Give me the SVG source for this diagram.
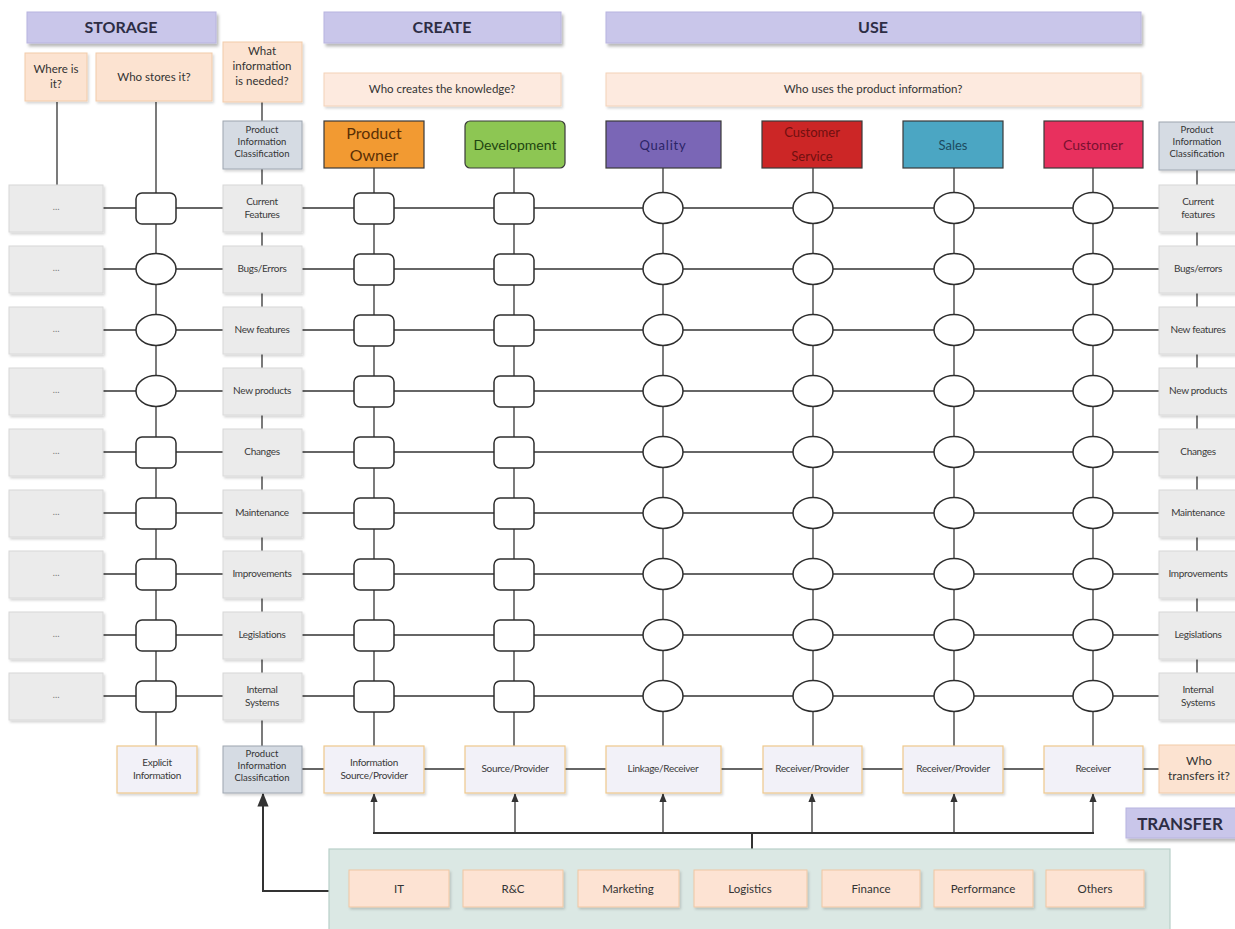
<svg xmlns="http://www.w3.org/2000/svg" width="1235" height="929" viewBox="0 0 1235 929">
  <defs>
    <filter id="shadow" x="-10%" y="-20%" width="130%" height="150%">
      <feDropShadow dx="2" dy="3" stdDeviation="1.5" flood-color="#000" flood-opacity="0.28"/>
    </filter>
    <filter id="softshadow" x="-10%" y="-20%" width="130%" height="150%">
      <feDropShadow dx="1.5" dy="2" stdDeviation="1.2" flood-color="#000" flood-opacity="0.16"/>
    </filter>
    <marker id="arrow" viewBox="0 0 10 10" refX="9" refY="5" markerWidth="7" markerHeight="7" orient="auto">
      <path d="M0,1 L10,5 L0,9 z" fill="#333"/>
    </marker>
    <style>
      text { font-family: Lato, "Open Sans", "Liberation Sans", sans-serif; text-anchor: middle; fill: #3a3a3a; }
      .phase { fill: #c9c6ea; stroke: #b8b4df; stroke-width: 1; filter: url(#shadow); }
      .phase-t { font-size: 16px; font-weight: bold; fill: #2d2d45; }
      .q { fill: #fce3d1; stroke: #f2cba9; stroke-width: 1; filter: url(#softshadow); }
      .q2 { fill: #fdeadf; stroke: #f3d2b8; stroke-width: 1; filter: url(#softshadow); }
      .q-t { font-size: 11.5px; fill: #333; }
      .pic { fill: #d5dbe3; stroke: #9ea6b0; stroke-width: 1; filter: url(#softshadow); }
      .pic-t { font-size: 9.5px; fill: #333; }
      .lab { fill: #ebebeb; stroke: #d8d8d8; stroke-width: 1; filter: url(#softshadow); }
      .lab-t { font-size: 10px; fill: #3a3a3a; letter-spacing: -0.3px; }
      .dots-t { font-size: 9px; fill: #777; }
      .role { stroke: #3a3a3a; stroke-width: 1.2; }
      .bot { fill: #f2f1f8; stroke: #efc98c; stroke-width: 1.2; filter: url(#softshadow); }
      .bot-t { font-size: 10px; fill: #3a3a3a; letter-spacing: -0.3px; }
      .dept { fill: #fde3d3; stroke: #f0c7a3; stroke-width: 1; filter: url(#softshadow); }
      .dept-t { font-size: 11.5px; fill: #333; }
      .line { stroke: #333; stroke-width: 1.3; fill: none; }
      .bus { stroke: #333; stroke-width: 2; fill: none; }
      .node { fill: #fff; stroke: #2e2e2e; stroke-width: 1.5; }
    </style>
  </defs>

  <rect width="1235" height="929" fill="#fff"/>

  <!-- connectors -->
  <g id="connectors">
    <!-- row lines -->
    <g class="line">
      <line x1="103" y1="208" x2="1159" y2="208"/>
      <line x1="103" y1="269" x2="1159" y2="269"/>
      <line x1="103" y1="330" x2="1159" y2="330"/>
      <line x1="103" y1="391" x2="1159" y2="391"/>
      <line x1="103" y1="452" x2="1159" y2="452"/>
      <line x1="103" y1="513" x2="1159" y2="513"/>
      <line x1="103" y1="574" x2="1159" y2="574"/>
      <line x1="103" y1="635" x2="1159" y2="635"/>
      <line x1="103" y1="696" x2="1159" y2="696"/>
      <!-- column lines -->
      <line x1="57" y1="102" x2="57" y2="185"/>
      <line x1="156" y1="102" x2="156" y2="746"/>
      <line x1="262" y1="102" x2="262" y2="746"/>
      <line x1="1197" y1="150" x2="1197" y2="696"/>
      <line x1="374" y1="168" x2="374" y2="746"/>
      <line x1="514" y1="168" x2="514" y2="746"/>
      <line x1="663" y1="168" x2="663" y2="746"/>
      <line x1="813" y1="168" x2="813" y2="746"/>
      <line x1="954" y1="168" x2="954" y2="746"/>
      <line x1="1093" y1="168" x2="1093" y2="746"/>
      <!-- bottom role row -->
      <line x1="302" y1="769" x2="1159" y2="769"/>
    </g>
    <!-- transfer bus -->
    <g class="bus">
      <line x1="373" y1="833" x2="1094" y2="833"/>
      <line x1="752" y1="833" x2="752" y2="849"/>
      <polyline points="329,891 263,891 263,794" marker-end="url(#arrow)"/>
    </g>
    <g class="line" marker-end="url(#arrow)">
      <line x1="374" y1="833" x2="374" y2="794"/>
      <line x1="515" y1="833" x2="515" y2="794"/>
      <line x1="663" y1="833" x2="663" y2="794"/>
      <line x1="812" y1="833" x2="812" y2="794"/>
      <line x1="954" y1="833" x2="954" y2="794"/>
      <line x1="1093" y1="833" x2="1093" y2="794"/>
    </g>
  </g>

  <!-- phase headers -->
  <g id="storage-header">
    <rect class="phase" x="27" y="12" width="189" height="31"/>
    <text class="phase-t" x="121" y="33">STORAGE</text>
  </g>
  <g id="create-header">
    <rect class="phase" x="324" y="12" width="237" height="31"/>
    <text class="phase-t" x="442" y="33">CREATE</text>
  </g>
  <g id="use-header">
    <rect class="phase" x="606" y="12" width="535" height="31"/>
    <text class="phase-t" x="873" y="33">USE</text>
  </g>
  <g id="transfer-header">
    <rect class="phase" x="1126" y="808" width="115" height="30"/>
    <text class="phase-t" x="1180" y="830" style="font-size:17px">TRANSFER</text>
  </g>

  <!-- questions -->
  <g id="q-where">
    <rect class="q" x="25" y="53" width="62" height="48"/>
    <text class="q-t" x="56" y="73">Where is</text>
    <text class="q-t" x="56" y="88">it?</text>
  </g>
  <g id="q-who-stores">
    <rect class="q" x="96" y="53" width="116" height="48"/>
    <text class="q-t" x="154" y="81">Who stores it?</text>
  </g>
  <g id="q-what">
    <rect class="q" x="223" y="42" width="79" height="60"/>
    <text class="q-t" x="262" y="55">What</text>
    <text class="q-t" x="262" y="70">information</text>
    <text class="q-t" x="262" y="85">is needed?</text>
  </g>
  <g id="q-who-creates">
    <rect class="q2" x="324" y="73" width="237" height="33"/>
    <text class="q-t" x="442" y="93">Who creates the knowledge?</text>
  </g>
  <g id="q-who-uses">
    <rect class="q2" x="606" y="73" width="535" height="33"/>
    <text class="q-t" x="873" y="93">Who uses the product information?</text>
  </g>
  <g id="q-who-transfers">
    <rect class="q" x="1159" y="745" width="80" height="48"/>
    <text class="q-t" x="1199" y="765" style="font-size:12px">Who</text>
    <text class="q-t" x="1199" y="780" style="font-size:12px">transfers it?</text>
  </g>

  <!-- classification headers -->
  <g id="pic-top">
    <rect class="pic" x="223" y="121" width="79" height="48"/>
    <text class="pic-t" x="262" y="133">Product</text>
    <text class="pic-t" x="262" y="145">Information</text>
    <text class="pic-t" x="262" y="157">Classification</text>
  </g>
  <g id="pic-right">
    <rect class="pic" x="1159" y="122" width="80" height="48"/>
    <text class="pic-t" x="1197" y="133">Product</text>
    <text class="pic-t" x="1197" y="145">Information</text>
    <text class="pic-t" x="1197" y="157">Classification</text>
  </g>

  <!-- roles -->
  <g id="role-product-owner">
    <rect class="role" x="324" y="121" width="100" height="47" fill="#f29a32" stroke="#f29a32"/>
    <text x="374" y="139" style="font-size:16px;fill:#5a2f05">Product</text>
    <text x="374" y="161" style="font-size:16px;fill:#5a2f05">Owner</text>
  </g>
  <g id="role-development">
    <rect class="role" x="465" y="121" width="100" height="47" rx="5" fill="#8dc653" stroke="#3d5a22"/>
    <text x="515" y="150" style="font-size:14px;fill:#1e4510">Development</text>
  </g>
  <g id="role-quality">
    <rect class="role" x="606" y="121" width="115" height="47" fill="#7a66b6"/>
    <text x="663" y="150" style="font-size:13px;fill:#2b2466;letter-spacing:0.8px">Quality</text>
  </g>
  <g id="role-customer-service">
    <rect class="role" x="762" y="121" width="100" height="47" fill="#cc2626"/>
    <text x="812" y="137" style="font-size:13px;fill:#701010">Customer</text>
    <text x="812" y="161" style="font-size:13px;fill:#701010">Service</text>
  </g>
  <g id="role-sales">
    <rect class="role" x="903" y="121" width="100" height="47" fill="#4ba6c3"/>
    <text x="953" y="150" style="font-size:13px;fill:#1c4a60">Sales</text>
  </g>
  <g id="role-customer">
    <rect class="role" x="1044" y="121" width="99" height="47" fill="#e8305e"/>
    <text x="1093" y="150" style="font-size:14px;fill:#7a1030">Customer</text>
  </g>

  <!-- storage location boxes -->
  <g id="where-boxes">
    <rect class="lab" x="9" y="185" width="94" height="47"/><text class="dots-t" x="56" y="210">…</text>
    <rect class="lab" x="9" y="246" width="94" height="47"/><text class="dots-t" x="56" y="271">…</text>
    <rect class="lab" x="9" y="307" width="94" height="47"/><text class="dots-t" x="56" y="332">…</text>
    <rect class="lab" x="9" y="368" width="94" height="47"/><text class="dots-t" x="56" y="393">…</text>
    <rect class="lab" x="9" y="429" width="94" height="47"/><text class="dots-t" x="56" y="454">…</text>
    <rect class="lab" x="9" y="490" width="94" height="47"/><text class="dots-t" x="56" y="515">…</text>
    <rect class="lab" x="9" y="551" width="94" height="47"/><text class="dots-t" x="56" y="576">…</text>
    <rect class="lab" x="9" y="612" width="94" height="47"/><text class="dots-t" x="56" y="637">…</text>
    <rect class="lab" x="9" y="673" width="94" height="47"/><text class="dots-t" x="56" y="698">…</text>
  </g>

  <!-- information categories (left) -->
  <g id="categories-left">
    <rect class="lab" x="223" y="185" width="79" height="47"/>
    <text class="lab-t" x="262" y="205">Current</text><text class="lab-t" x="262" y="218">Features</text>
    <rect class="lab" x="223" y="246" width="79" height="47"/>
    <text class="lab-t" x="262" y="272">Bugs/Errors</text>
    <rect class="lab" x="223" y="307" width="79" height="47"/>
    <text class="lab-t" x="262" y="333">New features</text>
    <rect class="lab" x="223" y="368" width="79" height="47"/>
    <text class="lab-t" x="262" y="394">New products</text>
    <rect class="lab" x="223" y="429" width="79" height="47"/>
    <text class="lab-t" x="262" y="455">Changes</text>
    <rect class="lab" x="223" y="490" width="79" height="47"/>
    <text class="lab-t" x="262" y="516">Maintenance</text>
    <rect class="lab" x="223" y="551" width="79" height="47"/>
    <text class="lab-t" x="262" y="577">Improvements</text>
    <rect class="lab" x="223" y="612" width="79" height="47"/>
    <text class="lab-t" x="262" y="638">Legislations</text>
    <rect class="lab" x="223" y="673" width="79" height="47"/>
    <text class="lab-t" x="262" y="693">Internal</text><text class="lab-t" x="262" y="706">Systems</text>
  </g>

  <!-- information categories (right) -->
  <g id="categories-right">
    <rect class="lab" x="1159" y="185" width="80" height="47"/>
    <text class="lab-t" x="1198" y="205">Current</text><text class="lab-t" x="1198" y="218">features</text>
    <rect class="lab" x="1159" y="246" width="80" height="47"/>
    <text class="lab-t" x="1198" y="272">Bugs/errors</text>
    <rect class="lab" x="1159" y="307" width="80" height="47"/>
    <text class="lab-t" x="1198" y="333">New features</text>
    <rect class="lab" x="1159" y="368" width="80" height="47"/>
    <text class="lab-t" x="1198" y="394">New products</text>
    <rect class="lab" x="1159" y="429" width="80" height="47"/>
    <text class="lab-t" x="1198" y="455">Changes</text>
    <rect class="lab" x="1159" y="490" width="80" height="47"/>
    <text class="lab-t" x="1198" y="516">Maintenance</text>
    <rect class="lab" x="1159" y="551" width="80" height="47"/>
    <text class="lab-t" x="1198" y="577">Improvements</text>
    <rect class="lab" x="1159" y="612" width="80" height="47"/>
    <text class="lab-t" x="1198" y="638">Legislations</text>
    <rect class="lab" x="1159" y="673" width="80" height="47"/>
    <text class="lab-t" x="1198" y="693">Internal</text><text class="lab-t" x="1198" y="706">Systems</text>
  </g>

  <!-- storage column nodes -->
  <g id="nodes-storage">
    <rect class="node" x="136" y="193" width="40" height="31" rx="6"/>
    <ellipse class="node" cx="156" cy="269" rx="20" ry="15.5"/>
    <ellipse class="node" cx="156" cy="330" rx="20" ry="15.5"/>
    <ellipse class="node" cx="156" cy="391" rx="20" ry="15.5"/>
    <rect class="node" x="136" y="437" width="40" height="31" rx="6"/>
    <rect class="node" x="136" y="498" width="40" height="31" rx="6"/>
    <rect class="node" x="136" y="559" width="40" height="31" rx="6"/>
    <rect class="node" x="136" y="620" width="40" height="31" rx="6"/>
    <rect class="node" x="136" y="681" width="40" height="31" rx="6"/>
  </g>

  <!-- product owner column nodes -->
  <g id="nodes-product-owner">
    <rect class="node" x="354" y="193" width="40" height="31" rx="6"/>
    <rect class="node" x="354" y="254" width="40" height="31" rx="6"/>
    <rect class="node" x="354" y="315" width="40" height="31" rx="6"/>
    <rect class="node" x="354" y="376" width="40" height="31" rx="6"/>
    <rect class="node" x="354" y="437" width="40" height="31" rx="6"/>
    <rect class="node" x="354" y="498" width="40" height="31" rx="6"/>
    <rect class="node" x="354" y="559" width="40" height="31" rx="6"/>
    <rect class="node" x="354" y="620" width="40" height="31" rx="6"/>
    <rect class="node" x="354" y="681" width="40" height="31" rx="6"/>
  </g>

  <!-- development column nodes -->
  <g id="nodes-development">
    <rect class="node" x="494" y="193" width="40" height="31" rx="6"/>
    <rect class="node" x="494" y="254" width="40" height="31" rx="6"/>
    <rect class="node" x="494" y="315" width="40" height="31" rx="6"/>
    <rect class="node" x="494" y="376" width="40" height="31" rx="6"/>
    <rect class="node" x="494" y="437" width="40" height="31" rx="6"/>
    <rect class="node" x="494" y="498" width="40" height="31" rx="6"/>
    <rect class="node" x="494" y="559" width="40" height="31" rx="6"/>
    <rect class="node" x="494" y="620" width="40" height="31" rx="6"/>
    <rect class="node" x="494" y="681" width="40" height="31" rx="6"/>
  </g>

  <!-- user column nodes -->
  <g id="nodes-quality">
    <ellipse class="node" cx="663" cy="208" rx="20" ry="15.5"/>
    <ellipse class="node" cx="663" cy="269" rx="20" ry="15.5"/>
    <ellipse class="node" cx="663" cy="330" rx="20" ry="15.5"/>
    <ellipse class="node" cx="663" cy="391" rx="20" ry="15.5"/>
    <ellipse class="node" cx="663" cy="452" rx="20" ry="15.5"/>
    <ellipse class="node" cx="663" cy="513" rx="20" ry="15.5"/>
    <ellipse class="node" cx="663" cy="574" rx="20" ry="15.5"/>
    <ellipse class="node" cx="663" cy="635" rx="20" ry="15.5"/>
    <ellipse class="node" cx="663" cy="696" rx="20" ry="15.5"/>
  </g>
  <g id="nodes-customer-service">
    <ellipse class="node" cx="813" cy="208" rx="20" ry="15.5"/>
    <ellipse class="node" cx="813" cy="269" rx="20" ry="15.5"/>
    <ellipse class="node" cx="813" cy="330" rx="20" ry="15.5"/>
    <ellipse class="node" cx="813" cy="391" rx="20" ry="15.5"/>
    <ellipse class="node" cx="813" cy="452" rx="20" ry="15.5"/>
    <ellipse class="node" cx="813" cy="513" rx="20" ry="15.5"/>
    <ellipse class="node" cx="813" cy="574" rx="20" ry="15.5"/>
    <ellipse class="node" cx="813" cy="635" rx="20" ry="15.5"/>
    <ellipse class="node" cx="813" cy="696" rx="20" ry="15.5"/>
  </g>
  <g id="nodes-sales">
    <ellipse class="node" cx="954" cy="208" rx="20" ry="15.5"/>
    <ellipse class="node" cx="954" cy="269" rx="20" ry="15.5"/>
    <ellipse class="node" cx="954" cy="330" rx="20" ry="15.5"/>
    <ellipse class="node" cx="954" cy="391" rx="20" ry="15.5"/>
    <ellipse class="node" cx="954" cy="452" rx="20" ry="15.5"/>
    <ellipse class="node" cx="954" cy="513" rx="20" ry="15.5"/>
    <ellipse class="node" cx="954" cy="574" rx="20" ry="15.5"/>
    <ellipse class="node" cx="954" cy="635" rx="20" ry="15.5"/>
    <ellipse class="node" cx="954" cy="696" rx="20" ry="15.5"/>
  </g>
  <g id="nodes-customer">
    <ellipse class="node" cx="1093" cy="208" rx="20" ry="15.5"/>
    <ellipse class="node" cx="1093" cy="269" rx="20" ry="15.5"/>
    <ellipse class="node" cx="1093" cy="330" rx="20" ry="15.5"/>
    <ellipse class="node" cx="1093" cy="391" rx="20" ry="15.5"/>
    <ellipse class="node" cx="1093" cy="452" rx="20" ry="15.5"/>
    <ellipse class="node" cx="1093" cy="513" rx="20" ry="15.5"/>
    <ellipse class="node" cx="1093" cy="574" rx="20" ry="15.5"/>
    <ellipse class="node" cx="1093" cy="635" rx="20" ry="15.5"/>
    <ellipse class="node" cx="1093" cy="696" rx="20" ry="15.5"/>
  </g>

  <!-- roles in transfer -->
  <g id="bottom-explicit">
    <rect class="bot" x="117" y="746" width="80" height="47"/>
    <text class="bot-t" x="157" y="766">Explicit</text>
    <text class="bot-t" x="157" y="779">Information</text>
  </g>
  <g id="pic-bottom">
    <rect class="pic" x="223" y="746" width="79" height="47"/>
    <text class="pic-t" x="262" y="757">Product</text>
    <text class="pic-t" x="262" y="769">Information</text>
    <text class="pic-t" x="262" y="781">Classification</text>
  </g>
  <g id="bottom-info-source">
    <rect class="bot" x="324" y="746" width="100" height="47"/>
    <text class="bot-t" x="374" y="766">Information</text>
    <text class="bot-t" x="374" y="779">Source/Provider</text>
  </g>
  <g id="bottom-source">
    <rect class="bot" x="465" y="746" width="100" height="47"/>
    <text class="bot-t" x="515" y="772">Source/Provider</text>
  </g>
  <g id="bottom-linkage">
    <rect class="bot" x="606" y="746" width="115" height="47"/>
    <text class="bot-t" x="663" y="772">Linkage/Receiver</text>
  </g>
  <g id="bottom-receiver-provider-1">
    <rect class="bot" x="763" y="746" width="99" height="47"/>
    <text class="bot-t" x="812" y="772">Receiver/Provider</text>
  </g>
  <g id="bottom-receiver-provider-2">
    <rect class="bot" x="903" y="746" width="100" height="47"/>
    <text class="bot-t" x="953" y="772">Receiver/Provider</text>
  </g>
  <g id="bottom-receiver">
    <rect class="bot" x="1044" y="746" width="99" height="47"/>
    <text class="bot-t" x="1093" y="772">Receiver</text>
  </g>

  <!-- departments -->
  <g id="departments">
    <rect x="329" y="849" width="841" height="90" fill="#dbe8e4" stroke="#b8cfc9" stroke-width="1.2"/>
    <rect class="dept" x="349" y="870" width="100" height="37"/><text class="dept-t" x="399" y="893">IT</text>
    <rect class="dept" x="463" y="870" width="100" height="37"/><text class="dept-t" x="513" y="893">R&amp;C</text>
    <rect class="dept" x="578" y="870" width="101" height="37"/><text class="dept-t" x="628" y="893">Marketing</text>
    <rect class="dept" x="694" y="870" width="113" height="37"/><text class="dept-t" x="750" y="893">Logistics</text>
    <rect class="dept" x="822" y="870" width="98" height="37"/><text class="dept-t" x="871" y="893">Finance</text>
    <rect class="dept" x="934" y="870" width="99" height="37"/><text class="dept-t" x="983" y="893">Performance</text>
    <rect class="dept" x="1046" y="870" width="98" height="37"/><text class="dept-t" x="1095" y="893">Others</text>
  </g>
</svg>
